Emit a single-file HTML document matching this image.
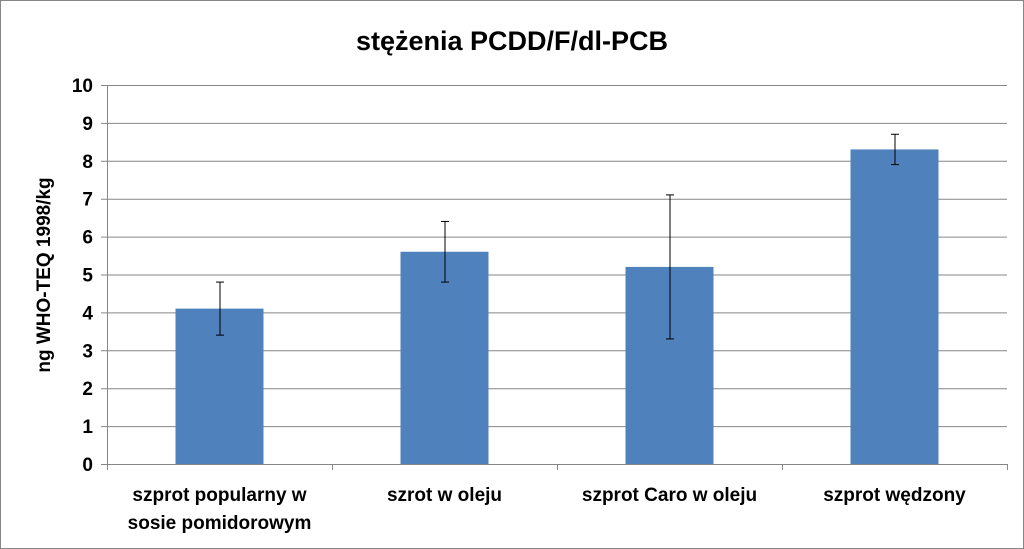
<!DOCTYPE html>
<html><head><meta charset="utf-8">
<style>
body{margin:0;background:#fff;}
svg{display:block;font-family:"Liberation Sans",Arial,sans-serif;}
</style></head>
<body>
<svg id="chart" width="1024" height="549" viewBox="0 0 1024 549" xmlns="http://www.w3.org/2000/svg">
<rect x="0.5" y="0.5" width="1023" height="548" fill="#fff" stroke="#868686"/>
<text x="512" y="50" text-anchor="middle" font-size="27" font-weight="bold" fill="#000">stężenia PCDD/F/dl-PCB</text>
<text transform="translate(50,275) rotate(-90)" text-anchor="middle" font-size="19" font-weight="bold" fill="#000">ng WHO-TEQ 1998/kg</text>
<g id="grid"></g><g id="bars"></g><g id="errs"></g><g id="labels"></g>
</svg>
<script>
const categories=[["szprot popularny w","sosie pomidorowym"],["szrot w oleju"],["szprot Caro w oleju"],["szprot wędzony"]];
const values=[4.1,5.6,5.2,8.3];
const errLow=[3.4,4.8,3.3,7.9];
const errHigh=[4.8,6.4,7.1,8.7];
const yTicks=[0,1,2,3,4,5,6,7,8,9,10];
const NS="http://www.w3.org/2000/svg";
const x0=107,x1=1007,yBase=464,yTop=85,yMax=10;
const y=v=>yBase-(v/yMax)*(yBase-yTop);
const band=(x1-x0)/categories.length;
const cx=i=>x0+band*(i+0.5);
const bw=88;
function mk(tag,attrs,parent){const e=document.createElementNS(NS,tag);for(const k in attrs)e.setAttribute(k,attrs[k]);document.getElementById(parent).appendChild(e);return e;}
yTicks.forEach(t=>{
  const l=mk('line',{x1:x0-6,x2:x1,y1:y(t)+0.5,y2:y(t)+0.5,stroke:t===0?'#868686':'#868686','stroke-width':1},'grid');
  
  
  const tx=mk('text',{x:x0-14,y:y(t)+7,'text-anchor':'end','font-size':19,'font-weight':'bold'},'labels');
  tx.textContent=t;
  
  
});
const ax=mk('line',{x1:x0+0.5,x2:x0+0.5,y1:yTop,y2:yBase,stroke:'#868686'},'grid');


for(let i=0;i<=categories.length;i++){
  const tk=mk('line',{x1:x0+band*i+0.5,x2:x0+band*i+0.5,y1:yBase,y2:yBase+6,stroke:'#868686'},'grid');
  
  
}
values.forEach((v,i)=>{
  const r=mk('rect',{x:cx(i)-bw/2,y:y(v),width:bw,height:yBase-y(v),fill:'#4f81bd'},'bars');
  
  
  const g=mk('g',{stroke:'#000','stroke-width':1},'errs');
  
  
  const c=cx(i)+0.5;
  [[c,y(errLow[i]),c,y(errHigh[i])],[c-4,y(errLow[i]),c+4,y(errLow[i])],[c-4,y(errHigh[i]),c+4,y(errHigh[i])]].forEach(p=>{
    const e=document.createElementNS(NS,'line');e.setAttribute('x1',p[0]);e.setAttribute('y1',p[1]);e.setAttribute('x2',p[2]);e.setAttribute('y2',p[3]);g.appendChild(e);
  });
  categories[i].forEach((line,j)=>{
    const t=mk('text',{x:cx(i),y:501+j*28,'text-anchor':'middle','font-size':19,'font-weight':'bold'},'labels');
    t.textContent=line;
    
    
  });
});
</script>
</body></html>
